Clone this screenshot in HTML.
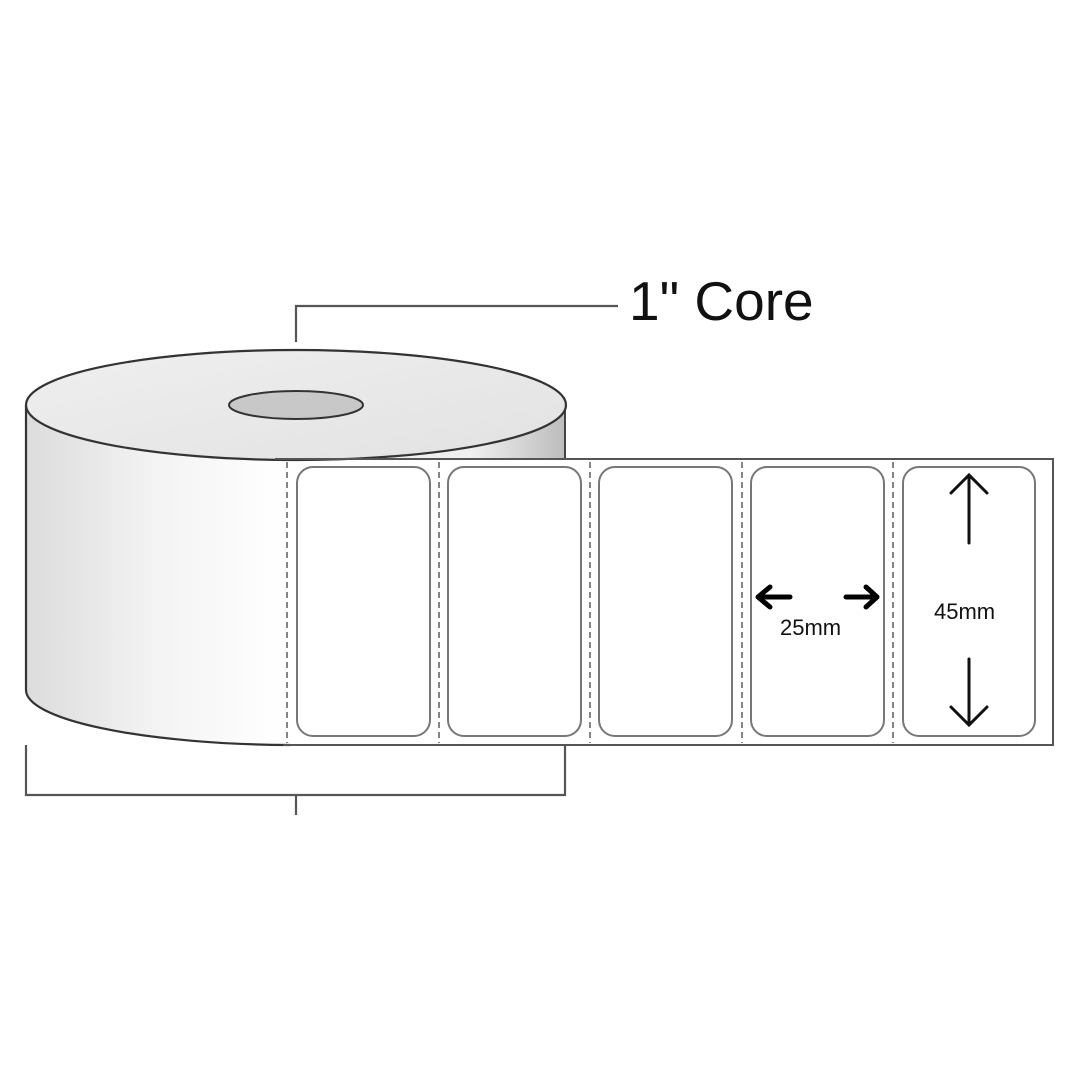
<!DOCTYPE html>
<html><head><meta charset="utf-8"><style>html,body{margin:0;padding:0;background:#fff}svg{display:block}</style></head>
<body>
<svg width="1080" height="1080" viewBox="0 0 1080 1080" xmlns="http://www.w3.org/2000/svg">
<defs>
<linearGradient id="side" x1="26" x2="283" y1="0" y2="0" gradientUnits="userSpaceOnUse">
<stop offset="0" stop-color="#dcdcdc"/><stop offset="0.5" stop-color="#f3f3f3"/><stop offset="1" stop-color="#ffffff"/>
</linearGradient>
<linearGradient id="rside" x1="470" x2="565" y1="0" y2="0" gradientUnits="userSpaceOnUse">
<stop offset="0" stop-color="#f0f0f0"/><stop offset="1" stop-color="#bdbdbd"/>
</linearGradient>
<linearGradient id="top" x1="0" x2="1" y1="0" y2="1">
<stop offset="0" stop-color="#efefef"/><stop offset="1" stop-color="#e2e2e2"/>
</linearGradient>
</defs>
<path d="M26 405 L26 690 A270 55 0 0 0 296 745 L565 745 L565 405 Z" fill="url(#side)"/>
<rect x="283" y="405" width="282" height="60" fill="url(#rside)"/>
<rect x="283" y="459" width="282" height="286" fill="#fff"/>
<path d="M26 405 L26 690 A270 55 0 0 0 290 745" fill="none" stroke="#333" stroke-width="2.2"/>
<line x1="565" y1="405" x2="565" y2="459" stroke="#444" stroke-width="2"/>
<ellipse cx="296" cy="405" rx="270" ry="55" fill="url(#top)" stroke="#333" stroke-width="2.2"/>
<ellipse cx="296" cy="405" rx="67" ry="14" fill="#c8c8c8" stroke="#333" stroke-width="2"/>
<path d="M275 459 L1053 459 L1053 745 L283 745" fill="none" stroke="#555" stroke-width="2"/>
<g stroke="#777" stroke-width="1.8" stroke-dasharray="6 4">
<line x1="287" y1="462" x2="287" y2="743"/>
<line x1="439" y1="462" x2="439" y2="743"/>
<line x1="590" y1="462" x2="590" y2="743"/>
<line x1="742" y1="462" x2="742" y2="743"/>
<line x1="893" y1="462" x2="893" y2="743"/>
</g>
<g fill="#fff" stroke="#777" stroke-width="2">
<rect x="297" y="467" width="133" height="269" rx="16"/>
<rect x="448" y="467" width="133" height="269" rx="16"/>
<rect x="599" y="467" width="133" height="269" rx="16"/>
<rect x="751" y="467" width="133" height="269" rx="16"/>
<rect x="903" y="467" width="132" height="269" rx="16"/>
</g>
<path d="M296 342 L296 306 L618 306" fill="none" stroke="#555" stroke-width="2.2"/>
<path d="M26 745 L26 795 L565 795 L565 745 M296 795 L296 815" fill="none" stroke="#555" stroke-width="2.2"/>
<text x="629" y="320" font-family="Liberation Sans, sans-serif" font-size="55" fill="#111">1" Core</text>
<g stroke="#000" stroke-width="5" fill="none" stroke-linecap="round" stroke-linejoin="round">
<path d="M790 597 L758 597 M770 587 L758 597 L770 607"/>
<path d="M846 597 L877 597 M866 587 L877 597 L866 607"/>
</g>
<g stroke="#111" stroke-width="3" fill="none" stroke-linecap="round">
<path d="M969 543 L969 475 M951 493 L969 475 L987 493"/>
<path d="M969 659 L969 725 M951 707 L969 725 L987 707"/>
</g>
<text x="780" y="635" font-family="Liberation Sans, sans-serif" font-size="22" fill="#111">25mm</text>
<text x="934" y="619" font-family="Liberation Sans, sans-serif" font-size="22" fill="#111">45mm</text>
</svg>
</body></html>
